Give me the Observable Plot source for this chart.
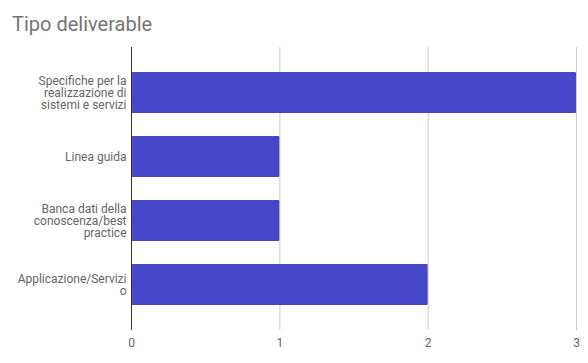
<!DOCTYPE html>
<html>
<head>
<meta charset="utf-8">
<script src="https://cdn.jsdelivr.net/npm/d3@7"></script>
<script src="https://cdn.jsdelivr.net/npm/@observablehq/plot@0.6"></script>
<style>
  html, body { margin: 0; padding: 0; background: #fff; }
  #title { font-family: Roboto, sans-serif; font-size: 20px; color: #757575; height: 42px; line-height: 20px; padding-left: 12px; padding-top: 14px; box-sizing: border-box; }
</style>
</head>
<body>
<div id="title">Tipo deliverable</div>
<div id="chart"></div>
<script>
const categories = [
  "Specifiche per la realizzazione di sistemi e servizi",
  "Linea guida",
  "Banca dati della conoscenza/best practice",
  "Applicazione/Servizio"
];
const tickLabels = [
  "Specifiche per la\nrealizzazione di\nsistemi e servizi",
  "Linea guida",
  "Banca dati della\nconoscenza/best\npractice",
  "Applicazione/Servizi\no"
];
const values = [3, 1, 1, 2];
const xTicks = [0, 1, 2, 3];

const data = categories.map((c, i) => ({category: c, value: values[i]}));
const labelMap = new Map(categories.map((c, i) => [c, tickLabels[i]]));

const chart = Plot.plot({
  width: 588,
  height: 321,
  marginTop: 5,
  marginBottom: 33,
  marginLeft: 131,
  marginRight: 12,
  style: {fontFamily: "Roboto, sans-serif", fontSize: "12px", color: "#666"},
  x: {domain: [0, 3], ticks: xTicks, label: null},
  y: {domain: categories, padding: 0.36, label: null},
  marks: [
    Plot.gridX(xTicks.filter(d => d > 0), {stroke: "#cccccc", strokeOpacity: 1}),
    Plot.barX(data, {y: "category", x: "value", fill: "#4646c9", rx: 1}),
    Plot.ruleX([0], {stroke: "#333333"}),
    Plot.axisX(xTicks, {tickSize: 0, tickPadding: 8, fill: "#666", fontSize: 12, tickFormat: d3.format("d"), label: null}),
    Plot.axisY({tickSize: 0, tickPadding: 5, fill: "#666", fontSize: 12, lineHeight: 1.02, tickFormat: d => labelMap.get(d), label: null})
  ]
});
document.getElementById("chart").appendChild(chart);
</script>
</body>
</html>
